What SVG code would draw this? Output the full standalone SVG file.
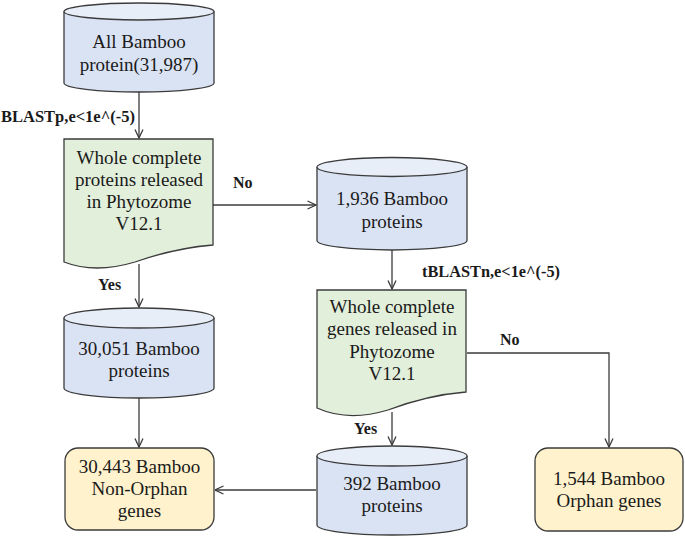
<svg xmlns="http://www.w3.org/2000/svg" width="685" height="537" viewBox="0 0 685 537">
<style>
.bg{fill:#ffffff}
.cyl{fill:#dae3f3;stroke:#3b3b3b;stroke-width:1.3}
.cyltop{fill:#e8eef8;stroke:#3b3b3b;stroke-width:1.3}
.doc{fill:#e2efda;stroke:#3b3b3b;stroke-width:1.3}
.box{fill:#fff2cc;stroke:#3b3b3b;stroke-width:1.3}
.t{font-family:"Liberation Serif","Times New Roman",serif;font-size:19px;fill:#1a1a1a;text-anchor:middle}
.lbl{font-family:"Liberation Serif","Times New Roman",serif;font-size:16px;font-weight:bold;fill:#1a1a1a}
.c{fill:none;stroke:#3b3b3b;stroke-width:1.3}
</style>
<defs>
<marker id="arr" viewBox="0 0 10 10" refX="9.5" refY="5" markerWidth="10" markerHeight="10" markerUnits="userSpaceOnUse" orient="auto">
<path d="M1,1 L9.5,5 L1,9" fill="none" stroke="#3b3b3b" stroke-width="1.3"/>
</marker>
</defs>
<rect class="bg" x="0" y="0" width="685" height="537"/>

<g id="connectors">
<path class="c" d="M139,92 L139,138" marker-end="url(#arr)"/>
<path class="c" d="M213,205 L316,205" marker-end="url(#arr)"/>
<path class="c" d="M139,264 L139,307" marker-end="url(#arr)"/>
<path class="c" d="M139,398 L139,447" marker-end="url(#arr)"/>
<path class="c" d="M392,250 L392,289" marker-end="url(#arr)"/>
<path class="c" d="M467,353 L609,353 L609,447" marker-end="url(#arr)"/>
<path class="c" d="M392,412 L392,445" marker-end="url(#arr)"/>
<path class="c" d="M316,490 L215,490" marker-end="url(#arr)"/>
<text class="lbl" x="1" y="122" textLength="134" lengthAdjust="spacingAndGlyphs">BLASTp,e&lt;1e^(-5)</text>
<text class="lbl" x="233" y="188">No</text>
<text class="lbl" x="98" y="290">Yes</text>
<text class="lbl" x="422" y="277" textLength="138" lengthAdjust="spacingAndGlyphs">tBLASTn,e&lt;1e^(-5)</text>
<text class="lbl" x="500" y="345">No</text>
<text class="lbl" x="354" y="434">Yes</text>
</g>

<g id="n1">
<path class="cyl" d="M64,11.5 L64,83 A75,9 0 0 0 214,83 L214,11.5"/>
<ellipse class="cyltop" cx="139" cy="11.5" rx="75" ry="8.5"/>
<text class="t" x="139" y="48">All Bamboo</text>
<text class="t" x="139" y="71">protein(31,987)</text>
</g>

<g id="n2">
<path class="doc" d="M64,139 L213,139 L213,245 Q175,248 135,262 Q95,274 64,262 Z"/>
<text class="t" x="139" y="164">Whole complete</text>
<text class="t" x="139" y="186">proteins released</text>
<text class="t" x="139" y="208">in Phytozome</text>
<text class="t" x="139" y="230">V12.1</text>
</g>

<g id="n3">
<path class="cyl" d="M317,167 L317,240.5 A75,9.5 0 0 0 467,240.5 L467,167"/>
<ellipse class="cyltop" cx="392" cy="167" rx="75" ry="9.5"/>
<text class="t" x="392" y="205">1,936 Bamboo</text>
<text class="t" x="392" y="228">proteins</text>
</g>

<g id="n4">
<path class="doc" d="M317,290 L466,290 L466,392 Q428,395 388,410 Q348,422 317,408 Z"/>
<text class="t" x="392" y="313">Whole complete</text>
<text class="t" x="392" y="335">genes released in</text>
<text class="t" x="392" y="358">Phytozome</text>
<text class="t" x="392" y="380">V12.1</text>
</g>

<g id="n5">
<path class="cyl" d="M64,318 L64,388 A75,10 0 0 0 214,388 L214,318"/>
<ellipse class="cyltop" cx="139" cy="318" rx="75" ry="10"/>
<text class="t" x="139" y="355">30,051 Bamboo</text>
<text class="t" x="139" y="377">proteins</text>
</g>

<g id="n6">
<rect class="box" x="65" y="448" width="149" height="82" rx="13" ry="13"/>
<text class="t" x="139.5" y="473">30,443 Bamboo</text>
<text class="t" x="139.5" y="495">Non-Orphan</text>
<text class="t" x="139.5" y="517">genes</text>
</g>

<g id="n7">
<path class="cyl" d="M317,456 L317,525 A75,10 0 0 0 467,525 L467,456"/>
<ellipse class="cyltop" cx="392" cy="456" rx="75" ry="10"/>
<text class="t" x="392" y="490">392 Bamboo</text>
<text class="t" x="392" y="512">proteins</text>
</g>

<g id="n8">
<rect class="box" x="535" y="448" width="148" height="83" rx="13" ry="13"/>
<text class="t" x="609" y="485">1,544 Bamboo</text>
<text class="t" x="609" y="507">Orphan genes</text>
</g>
</svg>
